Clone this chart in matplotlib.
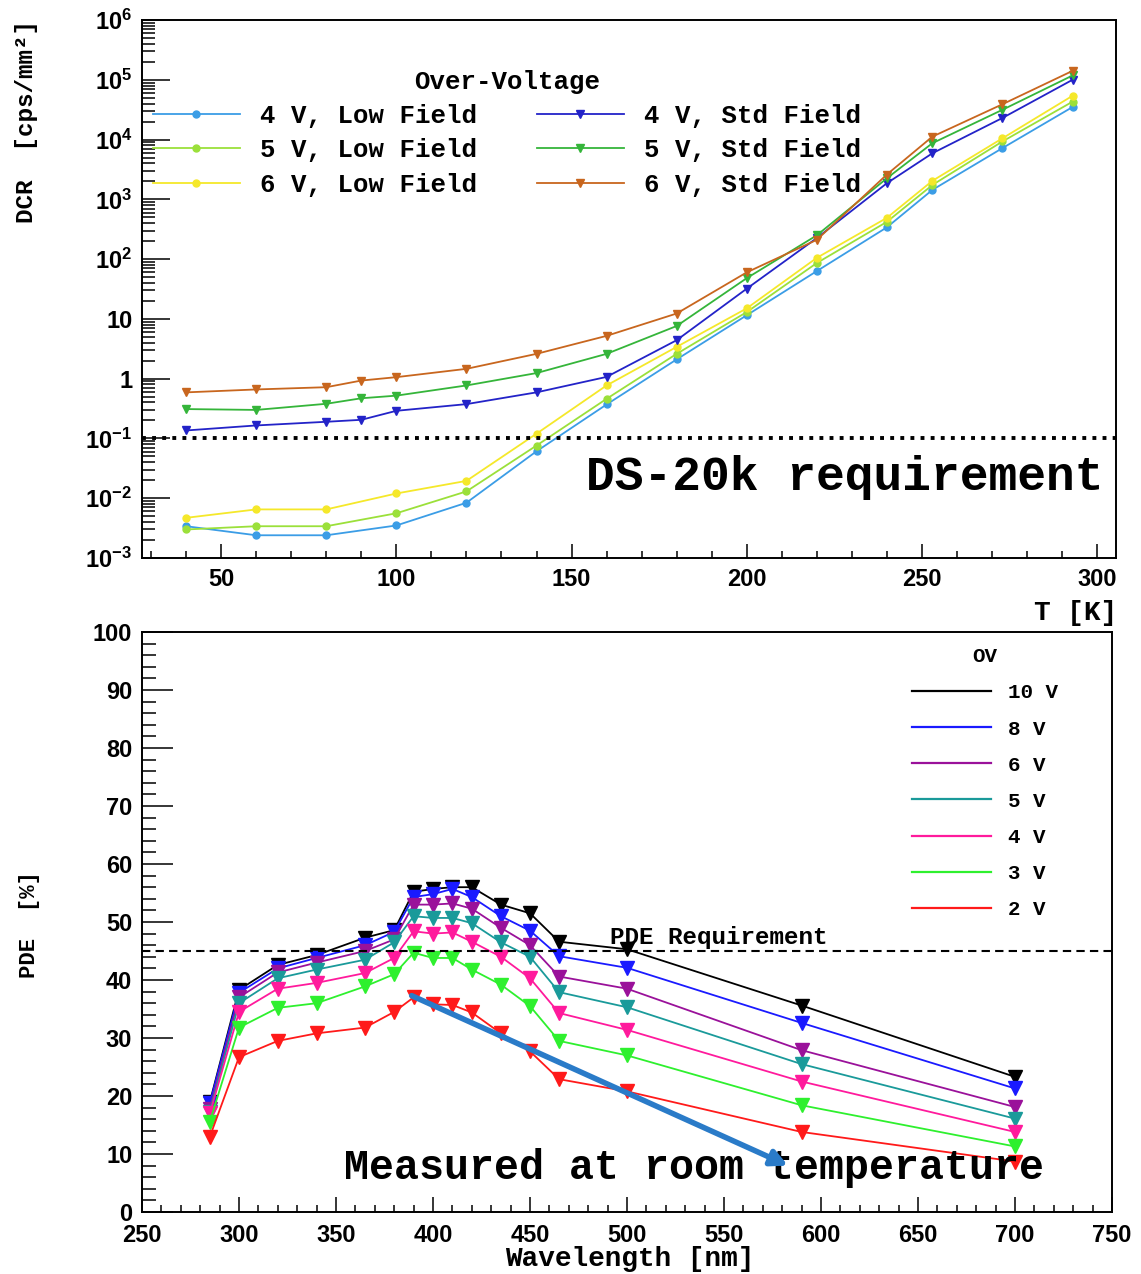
#!/usr/bin/env python3
"""
Purpose: DCR vs temperature and PDE vs wavelength (two stacked panels)
"""

import numpy as np
import matplotlib
matplotlib.use('Agg')
import matplotlib.pyplot as plt
from matplotlib.lines import Line2D
from matplotlib.ticker import (MultipleLocator, FixedLocator, LogLocator,
                               FuncFormatter, NullFormatter)

MONO = 'Liberation Mono'
SANS = 'Liberation Sans'

# --------------------------------------------------
# top panel: dark count rate [cps/mm2] vs T [K]
t_low = [40, 60, 80, 100, 120, 140, 160, 180, 200, 220, 240, 253, 273, 293]
t_std = [40, 60, 80, 90, 100, 120, 140, 160, 180, 200, 220, 240, 253, 273, 293]

dcr_4v_low = [0.0034, 0.0024, 0.0024, 0.0035, 0.0084, 0.061, 0.37, 2.1,
              11.5, 63, 340, 1440, 7200, 35000]
dcr_5v_low = [0.0030, 0.0034, 0.0034, 0.0056, 0.013, 0.076, 0.46, 2.6,
              13, 86, 420, 1740, 9300, 43000]
dcr_6v_low = [0.0047, 0.0065, 0.0065, 0.012, 0.0195, 0.12, 0.77, 3.4,
              15, 105, 490, 2040, 10500, 54000]
dcr_4v_std = [0.136, 0.165, 0.19, 0.205, 0.29, 0.375, 0.59, 1.07, 4.4,
              32, 225, 1860, 5900, 23000, 100000]
dcr_5v_std = [0.31, 0.30, 0.38, 0.47, 0.52, 0.77, 1.24, 2.6, 7.6,
              48, 250, 2250, 8700, 31500, 118000]
dcr_6v_std = [0.59, 0.66, 0.72, 0.93, 1.06, 1.46, 2.6, 5.2, 12.3,
              60, 210, 2600, 11200, 39000, 141000]

dcr_labels = ['4 V, Low Field', '5 V, Low Field', '6 V, Low Field',
              '4 V, Std Field', '5 V, Std Field', '6 V, Std Field']
dcr_colors = ['#3b9de6', '#9be03a', '#f5e82a', '#2323c8', '#35b53a', '#c8661e']
dcr_req = 0.1

# --------------------------------------------------
# bottom panel: PDE [%] vs wavelength [nm]
wavelength = [285, 300, 320, 340, 365, 380, 390, 400, 410, 420, 435, 450,
              465, 500, 590, 700]
pde_10v = [19.0, 38.3, 42.6, 44.3, 47.3, 48.6, 55.2, 55.7, 56.0, 56.0, 53.0,
           51.5, 46.6, 45.3, 35.6, 23.3]
pde_8v = [18.8, 37.8, 42.0, 43.8, 46.0, 48.3, 54.3, 54.8, 55.7, 54.3, 51.0,
          48.5, 44.1, 42.1, 32.6, 21.3]
pde_6v = [17.8, 37.0, 41.3, 43.0, 45.0, 47.0, 53.0, 53.0, 53.2, 52.3, 49.0,
          46.0, 40.6, 38.5, 27.9, 18.1]
pde_5v = [17.3, 36.0, 40.3, 41.8, 43.5, 46.5, 51.0, 50.7, 50.7, 49.8, 46.5,
          44.0, 37.9, 35.3, 25.5, 16.1]
pde_4v = [17.0, 34.5, 38.5, 39.5, 41.2, 43.8, 48.4, 48.0, 48.2, 46.6, 44.0,
          40.3, 34.3, 31.4, 22.5, 13.8]
pde_3v = [15.6, 31.8, 35.2, 36.0, 38.9, 41.0, 44.7, 43.8, 43.8, 41.8, 39.2,
          35.5, 29.5, 27.0, 18.4, 11.3]
pde_2v = [13.0, 26.7, 29.5, 30.8, 31.8, 34.5, 37.0, 35.8, 35.7, 34.4, 30.8,
          27.7, 22.9, 20.8, 13.8, 8.7]

pde_labels = ['10 V', '8 V', '6 V', '5 V', '4 V', '3 V', '2 V']
pde_colors = ['#000000', '#1a1aff', '#9a119a', '#1a9a9a', '#ff1a9c',
              '#2ef02e', '#ff1a1a']
pde_req = 45
arrow_from = (389, 37.3)
arrow_to = (583, 8.0)

W, H = 1141, 1274


# --------------------------------------------------
def dcr_fmt(v, pos):
    """ROOT-like log labels"""
    e = int(round(np.log10(v)))
    if e == 0:
        return '1'
    if e == 1:
        return '10'
    return r'$10^{%d}$' % e


# --------------------------------------------------
def style_axes(ax):
    for sp in ax.spines.values():
        sp.set_linewidth(1.4)
    ax.tick_params(which='both', direction='in', top=False, right=False,
                   width=1.1, labelsize=17, pad=7)
    for lab in ax.get_xticklabels() + ax.get_yticklabels():
        lab.set_fontfamily(SANS)
        lab.set_fontweight('bold')


# --------------------------------------------------
def main():
    plt.rcParams['mathtext.fontset'] = 'custom'
    plt.rcParams['mathtext.rm'] = SANS + ':bold'
    plt.rcParams['mathtext.it'] = SANS + ':bold'
    plt.rcParams['mathtext.bf'] = SANS + ':bold'

    fig = plt.figure(figsize=(W / 100, H / 100), dpi=100)

    # ---------------- top panel
    ax1 = fig.add_axes([142 / W, 1 - 558 / H, (1116 - 142) / W, (558 - 20) / H])
    low = [dcr_4v_low, dcr_5v_low, dcr_6v_low]
    std = [dcr_4v_std, dcr_5v_std, dcr_6v_std]
    handles = []
    for i, y in enumerate(low):
        h, = ax1.plot(t_low, y, '-o', color=dcr_colors[i], lw=1.3, ms=5,
                      label=dcr_labels[i])
        handles.append(h)
    for i, y in enumerate(std):
        h, = ax1.plot(t_std, y, '-v', color=dcr_colors[i + 3], lw=1.3, ms=6,
                      label=dcr_labels[i + 3])
        handles.append(h)
    ax1.axhline(dcr_req, color='k', lw=2.8, ls=(0, (1, 1.6)))

    ax1.set_yscale('log')
    ax1.set_xlim(27.4, 305.4)
    ax1.set_ylim(1e-3, 1e6)
    ax1.yaxis.set_major_locator(FixedLocator([10.0 ** k for k in range(-3, 7)]))
    ax1.yaxis.set_minor_locator(LogLocator(base=10, subs=np.arange(2, 10),
                                           numticks=100))
    ax1.yaxis.set_major_formatter(FuncFormatter(dcr_fmt))
    ax1.yaxis.set_minor_formatter(NullFormatter())
    ax1.xaxis.set_major_locator(MultipleLocator(50))
    ax1.xaxis.set_minor_locator(MultipleLocator(10))
    style_axes(ax1)
    ax1.tick_params(axis='y', which='major', length=20)
    ax1.tick_params(axis='y', which='minor', length=9.5)
    ax1.tick_params(axis='x', which='major', length=10)
    ax1.tick_params(axis='x', which='minor', length=5)

    leg = ax1.legend(handles=handles, ncol=2,
                     title='Over-Voltage', frameon=False, loc='upper center',
                     bbox_to_anchor=(507 / W, 1 - 57 / H),
                     bbox_transform=fig.transFigure, borderpad=0,
                     handlelength=3.4, handletextpad=0.8, columnspacing=2.3,
                     labelspacing=0.4,
                     prop={'family': MONO, 'weight': 'bold', 'size': 18.5})
    leg.get_title().set_fontfamily(MONO)
    leg.get_title().set_fontweight('bold')
    leg.get_title().set_fontsize(18.5)

    ax1.text(154, 0.022, 'DS-20k requirement', family=MONO, weight='bold',
             fontsize=34.5, va='center', ha='left')

    fig.text(27 / W, 1 - 20 / H, 'DCR  [cps/mm²]', rotation=90, ha='center',
             va='top', family=MONO, weight='bold', fontsize=17.5)
    fig.text(1117 / W, 1 - 613 / H, 'T [K]', ha='right', va='center',
             family=MONO, weight='bold', fontsize=20)

    # ---------------- bottom panel
    ax2 = fig.add_axes([142 / W, 1 - 1212 / H, (1112 - 142) / W,
                        (1212 - 632) / H])
    series = [pde_10v, pde_8v, pde_6v, pde_5v, pde_4v, pde_3v, pde_2v]
    for y, c in zip(series, pde_colors):
        ax2.plot(wavelength, y, '-v', color=c, lw=1.3, ms=10)
    ax2.axhline(pde_req, color='k', lw=1.5, ls=(0, (4, 2.5)))
    ax2.text(491, 47.3, 'PDE Requirement', family=MONO, weight='bold',
             fontsize=17.5, ha='left', va='center')
    ax2.text(354, 7.5, 'Measured at room temperature', family=MONO,
             weight='bold', fontsize=30, ha='left', va='center', zorder=4)
    ax2.annotate('', xy=arrow_to, xytext=arrow_from, zorder=5,
                 arrowprops=dict(arrowstyle='-|>', color='#2a7bc8', lw=4,
                                 mutation_scale=24, shrinkA=0, shrinkB=0))

    ax2.set_xlim(250, 750)
    ax2.set_ylim(0, 100)
    ax2.xaxis.set_major_locator(MultipleLocator(50))
    ax2.xaxis.set_minor_locator(MultipleLocator(10))
    ax2.yaxis.set_major_locator(MultipleLocator(10))
    ax2.yaxis.set_minor_locator(MultipleLocator(2))
    style_axes(ax2)
    ax2.tick_params(axis='y', which='major', length=22)
    ax2.tick_params(axis='y', which='minor', length=10)
    ax2.tick_params(axis='x', which='major', length=11)
    ax2.tick_params(axis='x', which='minor', length=5)
    ax2.tick_params(axis='x', pad=9)

    proxies = [Line2D([], [], color=c, lw=1.6) for c in pde_colors]
    leg2 = ax2.legend(proxies, pde_labels, title='OV', frameon=False,
                      loc='upper center', bbox_to_anchor=(985 / W, 1 - 637 / H),
                      bbox_transform=fig.transFigure, borderpad=0,
                      handlelength=3.8, handletextpad=0.8, labelspacing=0.82,
                      prop={'family': MONO, 'weight': 'bold', 'size': 15})
    leg2.get_title().set_fontfamily(MONO)
    leg2.get_title().set_fontweight('bold')
    leg2.get_title().set_fontsize(15)

    fig.text(30 / W, 1 - 924 / H, 'PDE  [%]', rotation=90, ha='center',
             va='center', family=MONO, weight='bold', fontsize=16)
    fig.text(630 / W, 1 - 1259 / H, 'Wavelength [nm]', ha='center',
             va='center', family=MONO, weight='bold', fontsize=20)

    fig.savefig('out.png', dpi=100)


# --------------------------------------------------
if __name__ == '__main__':
    main()
